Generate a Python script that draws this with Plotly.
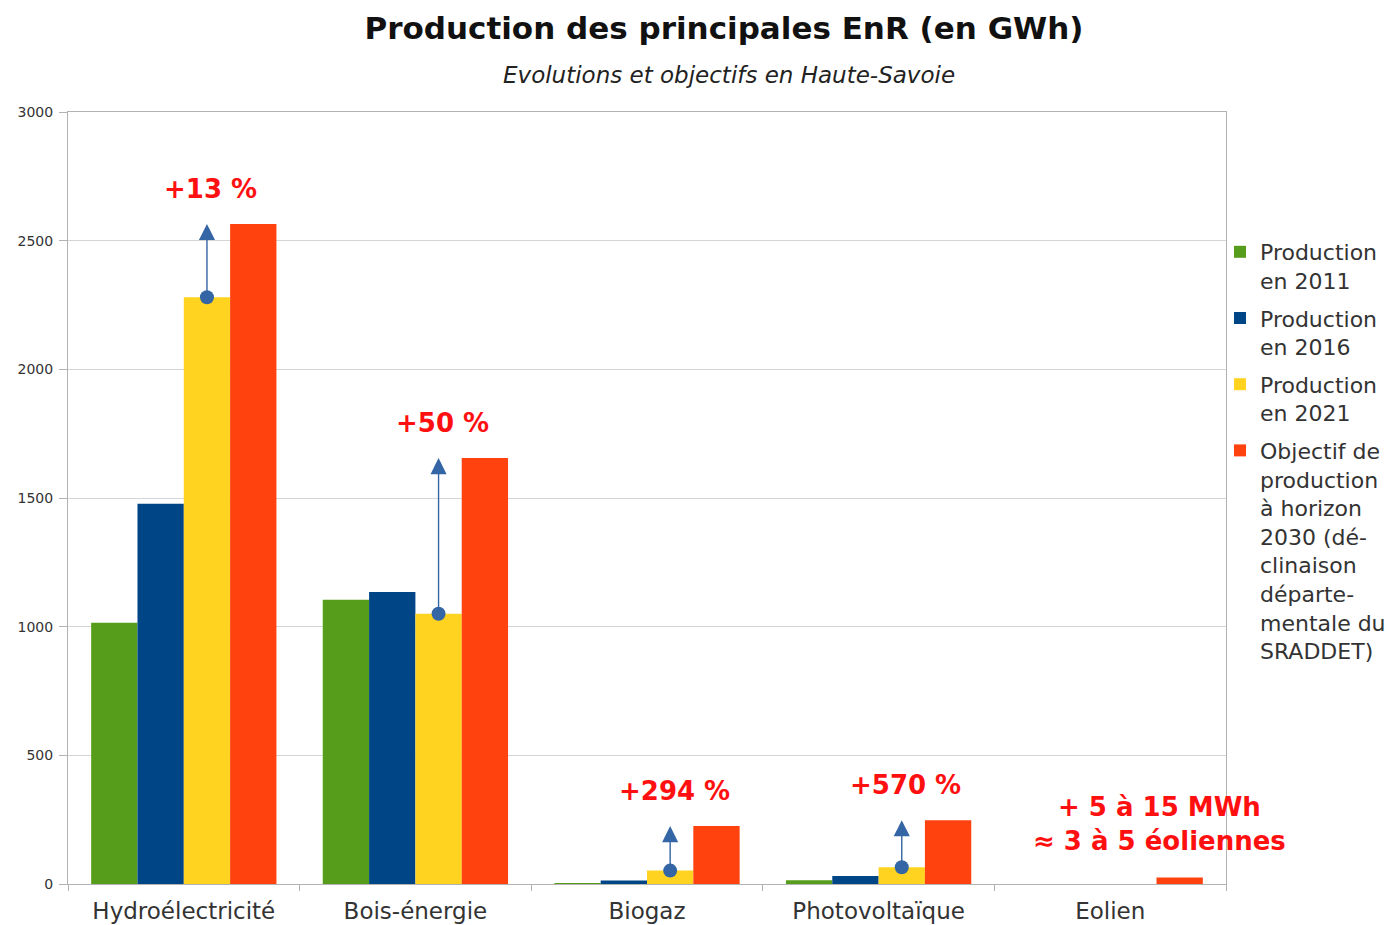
import plotly.graph_objects as go

categories = ["Hydroélectricité", "Bois-énergie", "Biogaz", "Photovoltaïque", "Eolien"]
prod_2011 = [1015, 1105, 3, 15, 0]
prod_2016 = [1478, 1135, 14, 31, 0]
prod_2021 = [2280, 1050, 52, 65, 0]
objectif_2030 = [2565, 1655, 225, 248, 25]
growth_labels = ["+13 %", "+50 %", "+294 %", "+570 %"]
eolien_note = "+ 5 à 15 MWh<br>≈ 3 à 5 éoliennes"

series_names = [
    "Production<br>en 2011",
    "Production<br>en 2016",
    "Production<br>en 2021",
    "Objectif de<br>production<br>à horizon<br>2030 (dé-<br>clinaison<br>départe-<br>mentale du<br>SRADDET)",
]
series_values = [prod_2011, prod_2016, prod_2021, objectif_2030]
colors = ["#579d1c", "#004586", "#ffd320", "#ff420e"]

FONT = "DejaVu Sans"
RED = "#ff1010"
ARROW = "#3465a4"

# page body has an 8px default margin: size the figure to fit the window
OFF = 8
W, H = 1396 - OFF, 925 - OFF
PL, PR, PT, PB = 68 - OFF, 1226 - OFF, 112 - OFF, 884 - OFF  # plot area in figure px
PW, PH = PR - PL, PB - PT

x_idx = list(range(len(categories)))
n_series = len(series_values)
bar_w = 0.8 / n_series
offsets = [(-0.4 + bar_w / 2 + k * bar_w) for k in range(n_series)]

fig = go.Figure()
for k, (name, vals, col) in enumerate(zip(series_names, series_values, colors)):
    fig.add_trace(go.Bar(
        x=x_idx, y=vals, name=name, marker=dict(color=col, line=dict(width=0)),
        legendgroup=f"g{k}",
    ))

yellow_x = [i + offsets[2] for i in x_idx]
orange_x = [i + offsets[3] for i in x_idx]
n_arrows = len(growth_labels)
fig.add_trace(go.Scatter(
    x=yellow_x[:n_arrows], y=prod_2021[:n_arrows], mode="markers",
    marker=dict(color=ARROW, size=14), showlegend=False, hoverinfo="skip",
))

annotations = []
for i in range(n_arrows):
    annotations.append(dict(
        x=yellow_x[i], y=objectif_2030[i], ax=yellow_x[i], ay=prod_2021[i],
        xref="x", yref="y", axref="x", ayref="y", text="", showarrow=True,
        arrowhead=2, arrowsize=2.3, arrowwidth=1.4, arrowcolor=ARROW, standoff=0,
    ))
    annotations.append(dict(
        x=yellow_x[i], y=objectif_2030[i], xref="x", yref="y", text=growth_labels[i],
        showarrow=False, yanchor="middle", yshift=35, xshift=4,
        font=dict(family=FONT, size=26, color=RED, weight="bold"),
    ))

annotations.append(dict(
    x=orange_x[4], y=objectif_2030[4], xref="x", yref="y", text=eolien_note,
    showarrow=False, yanchor="middle", xanchor="center", yshift=54, xshift=-20,
    font=dict(family=FONT, size=26, color=RED, weight="bold"),
))

annotations.append(dict(
    x=(729 - OFF - PL) / PW, y=(PB - (75 - OFF)) / PH, xref="paper", yref="paper",
    text="<i>Evolutions et objectifs en Haute-Savoie</i>", showarrow=False,
    xanchor="center", yanchor="middle",
    font=dict(family=FONT, size=23, color="#222222"),
))

fig.update_layout(
    width=W, height=H,
    margin=dict(l=PL, r=W - PR, t=PT, b=H - PB, autoexpand=False),
    paper_bgcolor="white", plot_bgcolor="white",
    barmode="group", bargap=0.2, bargroupgap=0,
    title=dict(
        text="<b>Production des principales EnR (en GWh)</b>",
        x=(724 - OFF) / W, xanchor="center", y=1 - 20 / H, yanchor="middle",
        font=dict(family=FONT, size=31, color="#111111"),
    ),
    legend=dict(
        x=(1220 - OFF - PL) / PW, xanchor="left", y=(PB - (231 - OFF)) / PH, yanchor="top",
        font=dict(family=FONT, size=22, color="#333333"),
        valign="top", tracegroupgap=6, bgcolor="rgba(0,0,0,0)",
    ),
    annotations=annotations,
    showlegend=True,
)

fig.update_xaxes(
    range=[-0.5, len(categories) - 0.5], automargin=False,
    tickvals=x_idx, ticktext=categories, ticks="", ticklabelstandoff=6,
    tickfont=dict(family=FONT, size=23, color="#333333"),
    showline=True, linecolor="#b3b3b3", linewidth=1, mirror=True,
    showgrid=False, zeroline=False,
    minor=dict(tickvals=[i - 0.5 for i in range(len(categories) + 1)],
               ticks="outside", ticklen=6, tickcolor="#b3b3b3", showgrid=False),
)
fig.update_yaxes(
    range=[0, 3000], dtick=500, tick0=0, automargin=False,
    ticks="outside", ticklen=8, tickcolor="#b3b3b3", ticklabelstandoff=3,
    tickfont=dict(family=FONT, size=14, color="#333333"),
    showline=True, linecolor="#b3b3b3", linewidth=1, mirror=True,
    showgrid=True, gridcolor="#d5d5d5", gridwidth=1, zeroline=False,
)

fig.write_html("out.html", config={"displayModeBar": False})
